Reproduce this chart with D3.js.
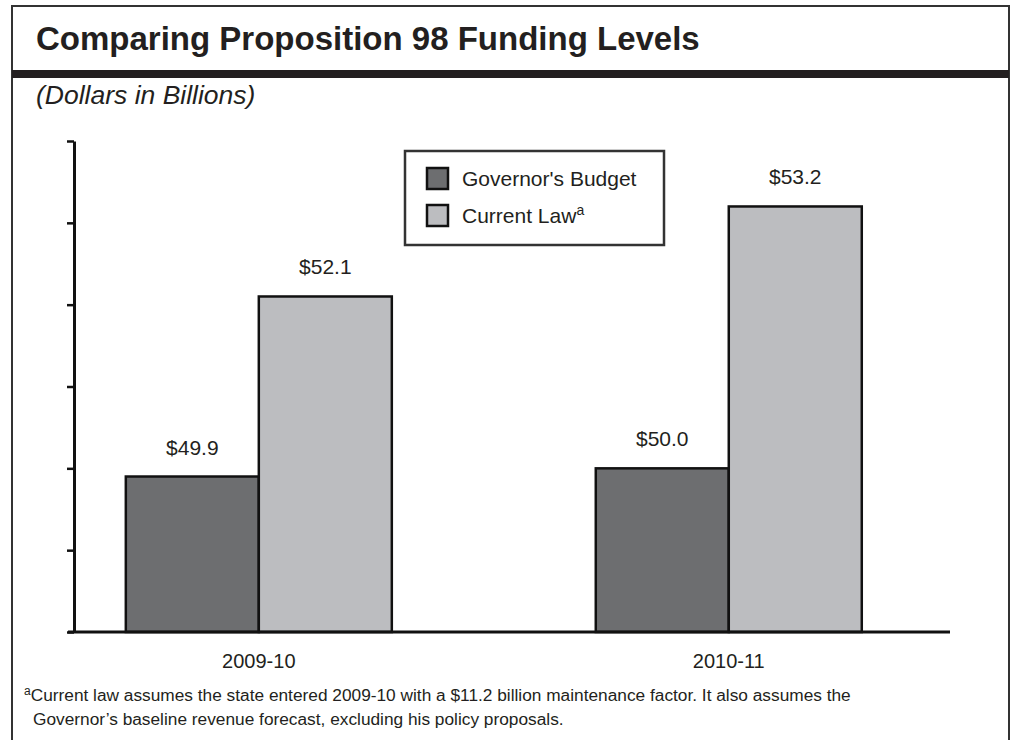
<!DOCTYPE html>
<html>
<head>
<meta charset="utf-8">
<script src="https://cdn.jsdelivr.net/npm/d3@7"></script>
<style>
  body { margin: 0; background: #fff; }
  svg { display: block; font-family: "Liberation Sans", Arial, Helvetica, sans-serif; }
</style>
</head>
<body>
<svg width="1011" height="740"></svg>
<script>
// chart data
var years = ["2009-10", "2010-11"];
var seriesNames = ["Governor's Budget", "Current Law"];
var governorsBudget = [49.9, 50.0];
var currentLaw = [52.1, 53.2];
var yTicks = [48, 49, 50, 51, 52, 53, 54];

var svg = d3.select("svg"),
    width = +svg.attr("width"),
    height = +svg.attr("height");

var ink = "#231f20";
var colors = ["#6d6e70", "#bcbdc0"];

// outer frame (no bottom edge visible)
svg.append("path")
    .attr("d", "M12,742 V6 H1009 V742")
    .attr("fill", "none")
    .attr("stroke", "#333")
    .attr("stroke-width", 2);

svg.append("text")
    .attr("x", 36).attr("y", 50)
    .attr("font-size", 33).attr("font-weight", "bold")
    .attr("fill", ink)
    .text("Comparing Proposition 98 Funding Levels");

svg.append("rect")
    .attr("x", 12).attr("y", 70)
    .attr("width", 997).attr("height", 8)
    .attr("fill", ink);

svg.append("text")
    .attr("x", 36).attr("y", 104)
    .attr("font-size", 26.5).attr("font-style", "italic")
    .attr("fill", ink)
    .text("(Dollars in Billions)");

// scales
var x0 = d3.scaleBand()
    .domain(years)
    .range([74, 950])
    .paddingInner(0.434)
    .paddingOuter(0.149)
    .align(0.37);

var x1 = d3.scaleBand()
    .domain(seriesNames)
    .range([0, x0.bandwidth()]);

var y = d3.scaleLinear()
    .domain([48, 54])
    .range([632, 141]);

var rows = years.map(function(d, i) {
  return { year: d, values: [governorsBudget[i], currentLaw[i]] };
});

var groups = svg.append("g").selectAll("g")
  .data(rows)
  .enter().append("g")
    .attr("transform", function(d) { return "translate(" + x0(d.year) + ",0)"; });

groups.selectAll("rect")
  .data(function(d) { return d.values.map(function(v, j) { return { name: seriesNames[j], value: v, j: j }; }); })
  .enter().append("rect")
    .attr("x", function(d) { return x1(d.name); })
    .attr("y", function(d) { return y(d.value); })
    .attr("width", x1.bandwidth())
    .attr("height", function(d) { return y(48) - y(d.value); })
    .attr("fill", function(d) { return colors[d.j]; })
    .attr("stroke", "#111")
    .attr("stroke-width", 2.5);

groups.selectAll("text.val")
  .data(function(d) { return d.values.map(function(v, j) { return { name: seriesNames[j], value: v }; }); })
  .enter().append("text")
    .attr("class", "val")
    .attr("x", function(d) { return x1(d.name) + x1.bandwidth() / 2; })
    .attr("y", function(d) { return y(d.value) - 22; })
    .attr("text-anchor", "middle")
    .attr("font-size", 21)
    .attr("fill", ink)
    .text(function(d) { return "$" + d.value.toFixed(1); });

// y axis: ticks only, no labels
var yAxis = svg.append("g")
    .attr("transform", "translate(74,0)")
    .call(d3.axisLeft(y).tickValues(yTicks).tickSize(7).tickSizeOuter(0).tickFormat(""));
yAxis.select(".domain").attr("stroke", "#111").attr("stroke-width", 3);
yAxis.selectAll(".tick line").attr("stroke", "#111").attr("stroke-width", 2.5);

// baseline
svg.append("line")
    .attr("x1", 68).attr("x2", 950)
    .attr("y1", y(48)).attr("y2", y(48))
    .attr("stroke", "#111")
    .attr("stroke-width", 3);

// category labels
svg.append("g").selectAll("text")
  .data(years)
  .enter().append("text")
    .attr("x", function(d) { return x0(d) + x0.bandwidth() / 2; })
    .attr("y", 668)
    .attr("text-anchor", "middle")
    .attr("font-size", 20)
    .attr("fill", ink)
    .text(function(d) { return d; });

// legend
var legend = svg.append("g");
legend.append("rect")
    .attr("x", 405).attr("y", 151)
    .attr("width", 259).attr("height", 94)
    .attr("fill", "#fff")
    .attr("stroke", "#333")
    .attr("stroke-width", 2.5);

var item = legend.selectAll("g.item")
  .data(seriesNames)
  .enter().append("g")
    .attr("class", "item")
    .attr("transform", function(d, i) { return "translate(427," + (168 + i * 37) + ")"; });

item.append("rect")
    .attr("width", 21).attr("height", 21)
    .attr("fill", function(d, i) { return colors[i]; })
    .attr("stroke", "#111")
    .attr("stroke-width", 2.5);

var itemText = item.append("text")
    .attr("x", 35).attr("y", 18)
    .attr("font-size", 21)
    .attr("fill", ink)
    .text(function(d) { return d; });
itemText.filter(function(d, i) { return i === 1; })
  .append("tspan")
    .attr("dy", -8)
    .attr("font-size", 14)
    .text("a");

// footnote
var note = svg.append("text")
    .attr("x", 24).attr("y", 701)
    .attr("font-size", 17.3)
    .attr("fill", ink);
note.append("tspan").attr("font-size", 12).attr("dy", -6).text("a");
note.append("tspan").attr("dy", 6)
    .text("Current law assumes the state entered 2009-10 with a $11.2 billion maintenance factor. It also assumes the");
svg.append("text")
    .attr("x", 33).attr("y", 725)
    .attr("font-size", 17.3)
    .attr("fill", ink)
    .text("Governor\u2019s baseline revenue forecast, excluding his policy proposals.");
</script>
</body>
</html>
